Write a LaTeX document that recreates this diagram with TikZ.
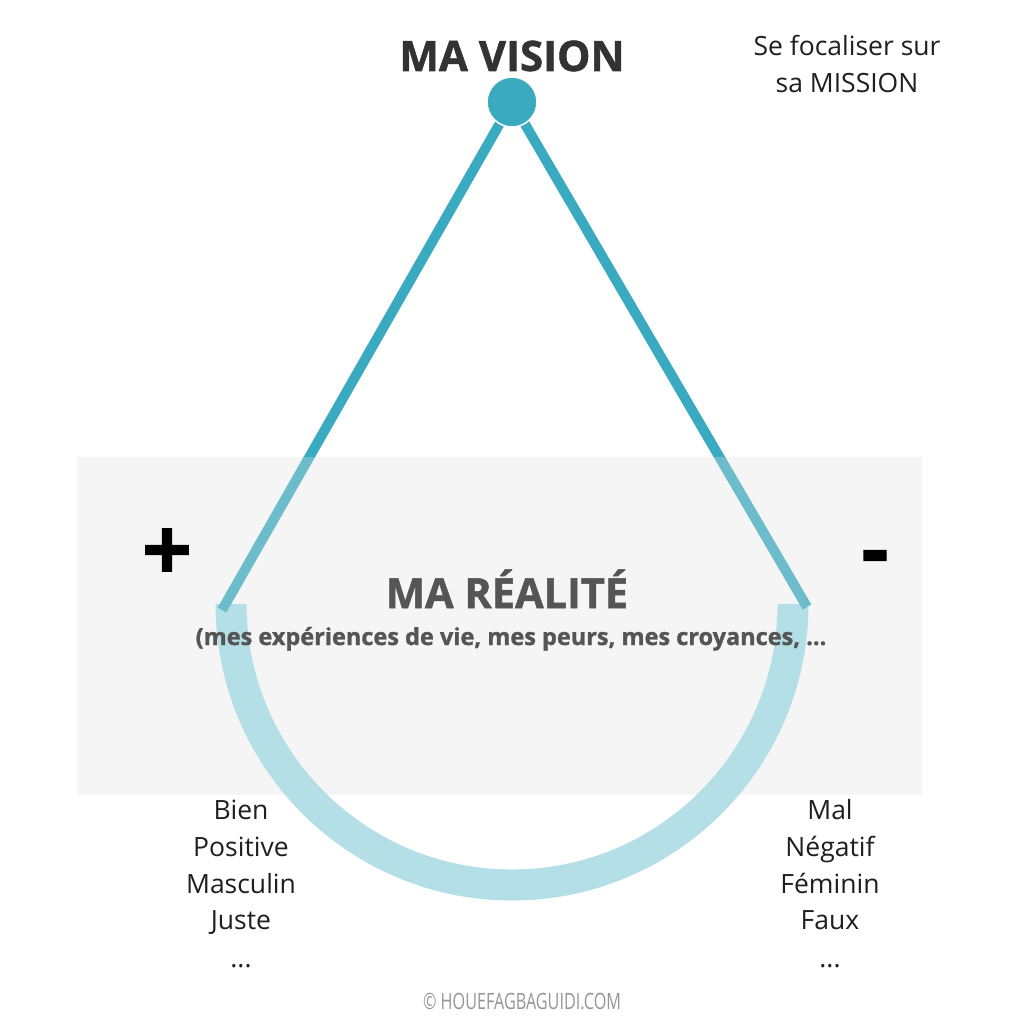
\documentclass[tikz,border=0pt]{standalone}
\usepackage{fontspec}
\setmainfont{Open Sans}
\newfontfamily\condfont[FakeStretch=0.72]{Open Sans}
\newfontfamily\heavyfont[FakeBold=1.2]{Open Sans Bold}
\definecolor{teal1}{RGB}{58,170,192}
\definecolor{teal2}{RGB}{108,188,203}
\definecolor{arcc}{RGB}{180,223,230}
\definecolor{boxc}{RGB}{245,245,245}
\definecolor{darkt}{RGB}{51,51,51}
\definecolor{midt}{RGB}{85,85,85}
\definecolor{foot}{RGB}{150,150,150}
\tikzset{
  arm/.style={line width=10pt, line cap=butt},
  listtxt/.style={anchor=base, inner sep=0pt, text=black!88, font=\fontsize{26.5}{30}\selectfont},
}
\begin{document}
\begin{tikzpicture}[x=1pt,y=-1pt]
\useasboundingbox (0,0) rectangle (1024,1024);
\fill[white] (0,0) rectangle (1024,1024);
% reality box
\fill[boxc] (77,457) rectangle (922,795);
% arc
\draw[arcc, line width=31pt] (231,604) arc[start angle=180, end angle=0, radius=281];
% arms
\coordinate (top) at (512,102);
\coordinate (lend) at (222,610);
\coordinate (rend) at (807,607);
\begin{scope}
\clip (0,0) rectangle (1024,457);
\draw[arm, teal1] (top) -- (lend);
\draw[arm, teal1] (top) -- (rend);
\end{scope}
\begin{scope}
\clip (0,457) rectangle (1024,1024);
\draw[arm, teal2] (top) -- (lend);
\draw[arm, teal2] (top) -- (rend);
\end{scope}
% vision circle
\node[circle, fill=teal1, draw=white, line width=1.5pt, minimum size=50pt, inner sep=0pt] (vis) at (top) {};
% texts
\node[anchor=base, inner sep=0pt, text=darkt, font=\heavyfont\fontsize{42}{48}\selectfont] (title) at (512,71) {MA VISION};
\node[listtxt] (focus) at (847,56) {Se focaliser sur};
\node[listtxt] (mission) at (847,93) {sa MISSION};
\node[anchor=base, inner sep=0pt, text=black, font=\heavyfont\fontsize{88}{96}\selectfont] (plus) at (167,581) {+};
\node[anchor=base, inner sep=0pt, text=black, font=\heavyfont\fontsize{84}{96}\selectfont] (minus) at (875,578) {-};
\node[anchor=base, inner sep=0pt, text=midt, font=\heavyfont\fontsize{41.5}{46}\selectfont] (real) at (507,608) {MA RÉALITÉ};
\node[anchor=base, inner sep=0pt, text=midt, font=\heavyfont\fontsize{23.5}{27}\selectfont] (sub) at (511,645) {(mes expériences de vie, mes peurs, mes croyances, ...};
% lists
\node[listtxt] (l1) at (241,819) {Bien};
\node[listtxt] (l2) at (241,856) {Positive};
\node[listtxt] (l3) at (241,893) {Masculin};
\node[listtxt] (l4) at (241,929) {Juste};
\node[listtxt] (l5) at (241,967) {...};
\node[listtxt] (r1) at (830,819) {Mal};
\node[listtxt] (r2) at (830,856) {Négatif};
\node[listtxt] (r3) at (830,893) {Féminin};
\node[listtxt] (r4) at (830,929) {Faux};
\node[listtxt] (r5) at (830,967) {...};
% footer
\node[anchor=base, inner sep=0pt, text=foot, font=\condfont\fontsize{22.5}{26}\selectfont] (footer) at (522,1009) {© HOUEFAGBAGUIDI.COM};
\end{tikzpicture}
\end{document}
